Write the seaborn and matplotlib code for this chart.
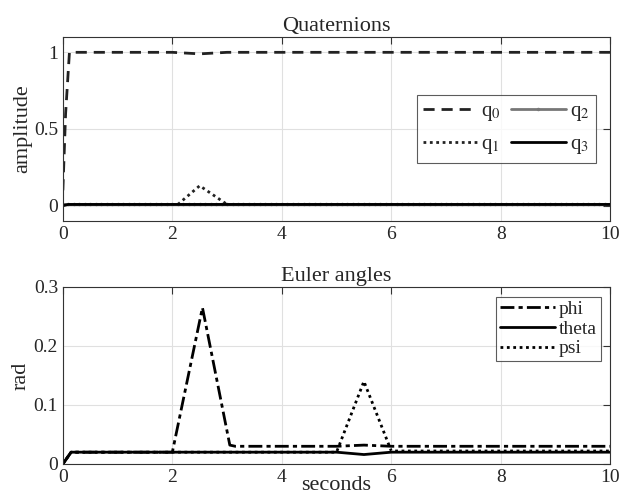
import numpy as np
import pandas as pd
import matplotlib
matplotlib.use("Agg")
import matplotlib.pyplot as plt
import seaborn as sns

# quaternion series (time in seconds)
t_q0 = [0, 0.05, 0.12, 2.0, 2.5, 3.0, 10]
q0 = [0.1, 0.6, 1.0, 1.0, 0.99, 1.0, 1.0]
t_q1 = [0, 0.1, 2.1, 2.5, 3.0, 10]
q1 = [0.005, 0.008, 0.008, 0.13, 0.008, 0.008]
t_q2 = list(np.arange(0, 10.01, 0.1))
q2 = [0.008] * len(t_q2)
t_q3 = [0, 0.1, 10]
q3 = [0.0, 0.008, 0.008]

# euler angles
t_phi = [0, 0.15, 2.0, 2.55, 3.05, 3.15, 5.0, 5.5, 6.0, 10]
phi = [0.0, 0.02, 0.02, 0.265, 0.032, 0.03, 0.03, 0.032, 0.03, 0.03]
t_theta = [0, 0.15, 5.0, 5.5, 6.0, 10]
theta = [0.0, 0.02, 0.02, 0.016, 0.02, 0.02]
t_psi = [0, 0.15, 5.0, 5.5, 6.0, 10]
psi = [0.0, 0.02, 0.02, 0.14, 0.022, 0.022]

sns.set_style("white")
plt.rcParams["font.family"] = ["Liberation Serif", "DejaVu Serif"]
plt.rcParams["mathtext.fontset"] = "stix"

fig = plt.figure(figsize=(6.35, 5.04), dpi=100)
ax1 = fig.add_axes([0.099, 0.5615, 0.862, 0.3651])
ax2 = fig.add_axes([0.099, 0.0794, 0.862, 0.3512])

sns.lineplot(x=t_q0, y=q0, ax=ax1, color="#222222", linestyle=(0, (4, 2.5)), linewidth=2, label="q$_0$")
sns.lineplot(x=t_q1, y=q1, ax=ax1, color="#222222", linestyle=(0, (1, 1.3)), linewidth=2, label="q$_1$")
sns.lineplot(x=t_q2, y=q2, ax=ax1, color="#777777", linewidth=2, marker="o", markersize=2.5,
             markeredgewidth=0, label="q$_2$")
sns.lineplot(x=t_q3, y=q3, ax=ax1, color="black", linewidth=2, label="q$_3$")

sns.lineplot(x=t_phi, y=phi, ax=ax2, color="black", linestyle=(0, (5, 1.5, 1.5, 1.5)), linewidth=2, label="phi")
sns.lineplot(x=t_theta, y=theta, ax=ax2, color="black", linewidth=2, label="theta")
sns.lineplot(x=t_psi, y=psi, ax=ax2, color="black", linestyle=(0, (1, 1.3)), linewidth=2, label="psi")

ax1.set_xlim(0, 10)
ax1.set_ylim(-0.1, 1.1)
ax1.set_yticks([0, 0.5, 1])
ax1.set_yticklabels(["0", "0.5", "1"])
ax1.set_xticks([0, 2, 4, 6, 8, 10])
ax1.set_title("Quaternions", fontsize=16, pad=4)
ax1.set_ylabel("amplitude", fontsize=16, labelpad=1)

ax2.set_xlim(0, 10)
ax2.set_ylim(0, 0.3)
ax2.set_yticks([0, 0.1, 0.2, 0.3])
ax2.set_yticklabels(["0", "0.1", "0.2", "0.3"])
ax2.set_xticks([0, 2, 4, 6, 8, 10])
ax2.set_title("Euler angles", fontsize=16, pad=4)
ax2.set_ylabel("rad", fontsize=16, labelpad=2)
ax2.set_xlabel("seconds", fontsize=16, labelpad=-7)

for ax in (ax1, ax2):
    ax.grid(True, color="#e0e0e0", linewidth=0.8)
    ax.tick_params(direction="in", top=True, right=True, labelsize=14, length=5,
                   color="#333333", width=0.8)
    for s in ax.spines.values():
        s.set_color("#333333")
        s.set_linewidth(0.8)

leg1 = ax1.legend(ncol=2, loc="center right", fontsize=15, frameon=True, fancybox=False,
                  edgecolor="#333333", handlelength=2.6, handletextpad=0.2, columnspacing=0.5,
                  borderpad=0.3, labelspacing=0.55, borderaxespad=0.7)
leg1.get_frame().set_linewidth(0.8)
leg2 = ax2.legend(loc="upper right", fontsize=14, frameon=True, fancybox=False,
                  edgecolor="#333333", handlelength=2.8, handletextpad=0.2,
                  borderpad=0.2, labelspacing=0.1, borderaxespad=0.5)
leg2.get_frame().set_linewidth(0.8)

fig.savefig("out.png", dpi=100)
